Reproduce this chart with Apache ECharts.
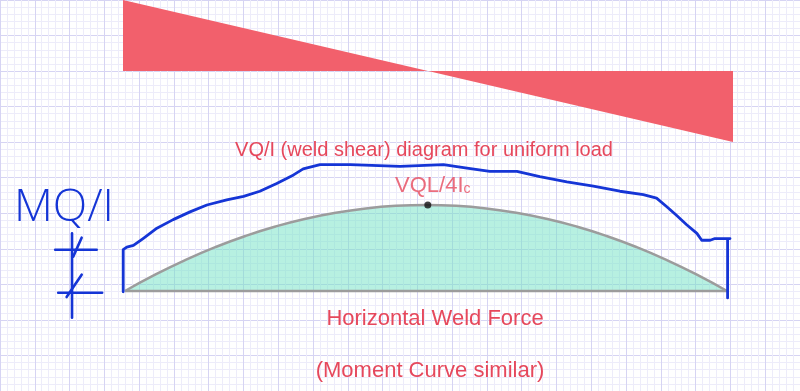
<!DOCTYPE html>
<html><head><meta charset="utf-8">
<script src="https://cdn.jsdelivr.net/npm/echarts@6/dist/echarts.min.js"></script>
<style>html,body{margin:0;padding:0;background:#fff}#c{width:800px;height:391px}</style>
</head><body><div id="c"></div>
<script>
// ---- data ----
const shearX = [0, 10];
const shearV = [1, -1];

const momentX = [0, 0.5, 1, 1.5, 2, 2.5, 3, 3.5, 4, 4.5, 5, 5.5, 6, 6.5, 7, 7.5, 8, 8.5, 9, 9.5, 10];
const momentY = [0, 0.19, 0.36, 0.51, 0.64, 0.75, 0.84, 0.91, 0.96, 0.99, 1.0, 0.99, 0.96, 0.91, 0.84, 0.75, 0.64, 0.51, 0.36, 0.19, 0];

const weldX = [-0.03, -0.03, 0.03, 0.14, 0.30, 0.53, 0.80, 1.08, 1.36, 1.69, 1.97, 2.24, 2.52, 2.80, 2.96, 3.24, 3.74, 4.57, 5.29, 5.68, 6.06, 6.51, 6.89, 7.34, 7.78, 8.22, 8.61, 8.83, 9.00, 9.16, 9.33, 9.50, 9.58, 9.72, 9.80, 10.05, 10.01, 10.01];
const weldY = [-0.01, 0.48, 0.51, 0.53, 0.61, 0.73, 0.83, 0.92, 1.00, 1.06, 1.10, 1.16, 1.25, 1.35, 1.42, 1.47, 1.47, 1.45, 1.47, 1.43, 1.39, 1.39, 1.33, 1.27, 1.22, 1.16, 1.12, 1.08, 0.98, 0.88, 0.77, 0.67, 0.59, 0.59, 0.61, 0.61, 0.61, -0.08];

const peakX = [5.03];
const peakY = [1.0];

// dimension marks of the MQ/I offset (each: [x1, y1, x2, y2])
const dimSegments = [
  [-0.88, 0.67, -0.88, -0.31],
  [-1.16, 0.48, -0.47, 0.48],
  [-1.11, -0.02, -0.38, -0.02],
  [-0.72, 0.62, -0.86, 0.40],
  [-0.72, 0.19, -0.97, -0.07]
];

const topTitle = 'Shear Force Distribution for Uniform Load';
const shearTitle = 'VQ/I (weld shear) diagram for uniform load';
const peakLabel = 'VQL/4I';
const peakSub = 'c';
const sideLabel = 'MQ/I';
const forceTitle = 'Horizontal Weld Force';
const noteTitle = '(Moment Curve similar)';

// ---- chart ----
const RED_TEXT = '#e6485c';
const BLUE = '#1535d6';
const hidden = {axisLine:{show:false}, axisTick:{show:false}, axisLabel:{show:false}, splitLine:{show:false}};

const chart = echarts.init(document.getElementById('c'), null, {renderer:'canvas'});
const zip = (xs, ys) => xs.map((x, i) => [x, ys[i]]);

const dimSeries = dimSegments.map(s => ({
  type:'line', xAxisIndex:2, yAxisIndex:2, clip:false, silent:true,
  symbol:'none', data:[[s[0], s[1]], [s[2], s[3]]],
  lineStyle:{color:BLUE, width:2.6, cap:'round'}, z:6
}));

chart.setOption({
  animation:false,
  backgroundColor:'#ffffff',
  grid:[
    {left:-19.05, top:-0.8, width:822.25, height:393.8},
    {left:123, top:0, width:610, height:142},
    {left:4.6, top:119, width:752.5, height:215}
  ],
  xAxis:[
    {gridIndex:0, type:'value', min:0, max:23, interval:1,
     axisLine:{show:false}, axisTick:{show:false}, axisLabel:{show:false},
     splitLine:{show:true, lineStyle:{color:'#d6d4f3', width:1}},
     minorTick:{show:false, splitNumber:5},
     minorSplitLine:{show:true, lineStyle:{color:'#edecfa', width:1}}},
    Object.assign({gridIndex:1, type:'value', min:0, max:10}, hidden),
    Object.assign({gridIndex:2, type:'value', min:-2, max:10.5}, hidden)
  ],
  yAxis:[
    {gridIndex:0, type:'value', min:0, max:11, interval:1,
     axisLine:{show:false}, axisTick:{show:false}, axisLabel:{show:false},
     splitLine:{show:true, lineStyle:{color:'#d6d4f3', width:1}},
     minorTick:{show:false, splitNumber:5},
     minorSplitLine:{show:true, lineStyle:{color:'#edecfa', width:1}}},
    Object.assign({gridIndex:1, type:'value', min:-1, max:1}, hidden),
    Object.assign({gridIndex:2, type:'value', min:-0.5, max:2}, hidden)
  ],
  series:[
    {type:'line', xAxisIndex:1, yAxisIndex:1, data:zip(shearX, shearV), symbol:'none', silent:true,
     lineStyle:{width:0, color:'#f2606c'}, areaStyle:{color:'#f2606c', opacity:1, origin:0}, z:2},
    {type:'line', xAxisIndex:2, yAxisIndex:2, data:zip(momentX, momentY), smooth:true, symbol:'none', silent:true,
     lineStyle:{color:'#9c9c9c', width:2.5}, areaStyle:{color:'rgba(112,226,196,0.5)', opacity:1, origin:0}, z:3},
    {type:'line', xAxisIndex:2, yAxisIndex:2, data:[[momentX[0], 0], [momentX[momentX.length-1], 0]], symbol:'none', silent:true,
     lineStyle:{color:'#9c9c9c', width:2.5}, z:3},
    {type:'line', xAxisIndex:2, yAxisIndex:2, data:zip(weldX, weldY), clip:false, symbol:'none', silent:true,
     lineStyle:{color:BLUE, width:2.8, join:'round', cap:'round'}, z:5},
    {type:'scatter', xAxisIndex:2, yAxisIndex:2, data:zip(peakX, peakY), symbolSize:7, silent:true,
     itemStyle:{color:'#111111'}, z:6,
     label:{show:true, position:'top', distance:5, offset:[5,0],
       formatter:'{a|' + peakLabel + '}{b|' + peakSub + '}',
       rich:{a:{fontFamily:'Liberation Sans', fontSize:22, color:RED_TEXT, verticalAlign:'bottom'},
             b:{fontFamily:'Liberation Sans', fontSize:14, color:RED_TEXT, verticalAlign:'bottom'}}}}
  ].concat(dimSeries),
  graphic:[
    {type:'text', x:411, y:4.9, z:10, silent:true,
     style:{text:topTitle, fill:RED_TEXT, font:'20px "Liberation Sans"', align:'center', verticalAlign:'bottom'}},
    {type:'text', x:424, y:150, z:10, silent:true,
     style:{text:shearTitle, fill:RED_TEXT, font:'20px "Liberation Sans"', align:'center', verticalAlign:'middle'}},
    {type:'text', x:14, y:208, z:10, silent:true,
     style:{text:sideLabel, fill:BLUE, font:'300 45px "Open Sans"', align:'left', verticalAlign:'middle'}},
    {type:'text', x:435, y:319, z:10, silent:true,
     style:{text:forceTitle, fill:RED_TEXT, font:'22px "Liberation Sans"', align:'center', verticalAlign:'middle'}},
    {type:'text', x:430, y:371, z:10, silent:true,
     style:{text:noteTitle, fill:RED_TEXT, font:'22px "Liberation Sans"', align:'center', verticalAlign:'middle'}}
  ]
});
</script>
</body></html>
